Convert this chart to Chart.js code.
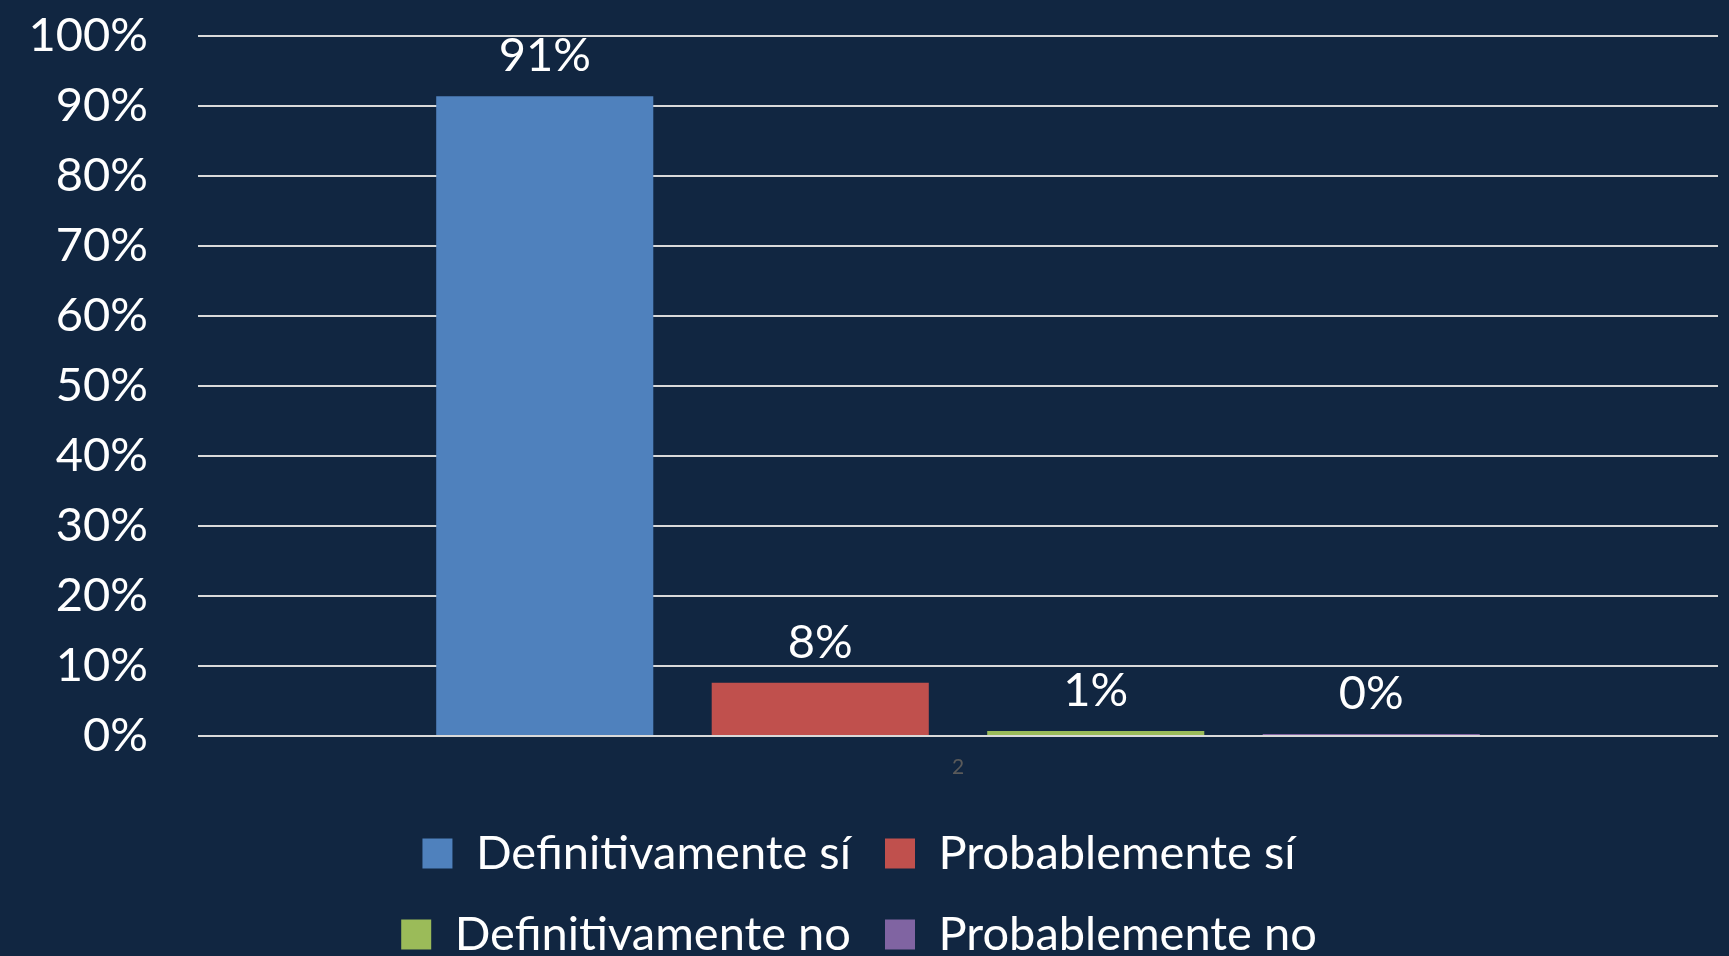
<!DOCTYPE html>
<html>
<head>
<meta charset="utf-8">
<script src="https://cdn.jsdelivr.net/npm/chart.js@4.4.1/dist/chart.umd.min.js"></script>
<style>
  html, body { margin: 0; padding: 0; overflow: hidden; background: #112641; }
  #wrap { width: 1729px; height: 968px; position: relative; }
</style>
</head>
<body>
<div id="wrap"><canvas id="chart"></canvas></div>
<script>
const categories = ['2'];
const seriesNames = ['Definitivamente sí', 'Probablemente sí', 'Definitivamente no', 'Probablemente no'];
const definitivamenteSi = [91.4];
const probablementeSi = [7.6];
const definitivamenteNo = [0.7];
const probablementeNo = [0.3];
const seriesColors = ['#4f81bd', '#c0504d', '#9bbb59', '#8064a2'];
const yMax = 100;
const yStep = 10;

const LEGEND_ROW_WIDTH = 1200;

// Excel lays the legend out in two rows of two; make Chart.js wrap the same way
const legendRows = {
  id: 'legendRows',
  beforeLayout(chart) {
    const legend = chart.legend;
    if (!legend || legend._rowsPatched) return;
    const fitRows = legend._fitRows;
    legend._fitRows = function (...args) {
      const full = this.maxWidth;
      this.maxWidth = LEGEND_ROW_WIDTH;
      const h = fitRows.apply(this, args);
      this.maxWidth = full;
      return h;
    };
    legend._rowsPatched = true;
  }
};

const barLabels = {
  id: 'barLabels',
  afterDatasetsDraw(chart) {
    const ctx = chart.ctx;
    ctx.save();
    ctx.font = '47px Lato';
    ctx.fillStyle = '#ffffff';
    ctx.textAlign = 'center';
    ctx.textBaseline = 'alphabetic';
    chart.data.datasets.forEach((ds, i) => {
      chart.getDatasetMeta(i).data.forEach((bar, j) => {
        ctx.fillText(Math.round(ds.data[j]) + '%', bar.x, bar.y - 25);
      });
    });
    ctx.restore();
  }
};

const allSeries = [definitivamenteSi, probablementeSi, definitivamenteNo, probablementeNo];

new Chart(document.getElementById('chart'), {
  type: 'bar',
  data: {
    labels: categories,
    datasets: allSeries.map((values, i) => ({
      label: seriesNames[i],
      data: values,
      backgroundColor: seriesColors[i],
      borderWidth: 0,
      categoryPercentage: 0.725,
      barPercentage: 0.788
    }))
  },
  options: {
    responsive: true,
    maintainAspectRatio: false,
    animation: false,
    layout: { padding: { top: 36, right: 11, left: 0, bottom: 0 } },
    scales: {
      x: {
        grid: { display: false },
        border: { display: false },
        ticks: { color: '#5a5a5a', font: { family: 'Lato', size: 21 }, padding: 11 },
        afterFit: s => { s.height = 60; }
      },
      y: {
        min: 0,
        max: yMax,
        ticks: {
          stepSize: yStep,
          color: '#ffffff',
          font: { family: 'Lato', size: 47 },
          padding: 0,
          callback: v => v + '%'
        },
        grid: { color: '#d9d9d9', lineWidth: 2, drawTicks: true, tickLength: 50, tickColor: 'transparent' },
        border: { display: false },
        afterFit: s => { s.width = 198; }
      }
    },
    plugins: {
      legend: {
        position: 'bottom',
        labels: {
          color: '#ffffff',
          font: { family: 'Lato', size: 47 },
          boxWidth: 30,
          boxHeight: 30,
          padding: 34
        }
      },
      tooltip: { enabled: false }
    }
  },
  plugins: [legendRows, barLabels]
});
</script>
</body>
</html>
